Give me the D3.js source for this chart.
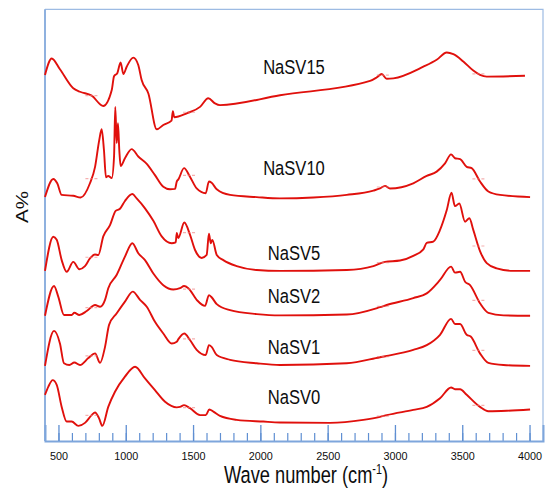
<!DOCTYPE html>
<html lang="en">
<head>
  <meta charset="utf-8">
  <title>FTIR NaSV</title>
  <script src="https://d3js.org/d3.v7.min.js"></script>
  <style>
    body { margin: 0; background: #fff; }
    text { font-family: "Liberation Sans", Arial, sans-serif; fill: #0d0d0d; }
  </style>
</head>
<body>
<div id="chart"></div>
<script>
"use strict";

// spectra: [wave number, A%]
const nasv15 = [[400,84.8],[450,88.6],[511,86.1],[610,81.7],[660,80.9],[747,80.0],[833,77.6],[896,81.3],[913,84.5],[937,85.2],[962,87.7],[982,85.0],[1007,86.7],[1056,88.8],[1093,87.1],[1118,83.6],[1168,80.5],[1230,72.2],[1279,73.2],[1340,74.2],[1350,76.4],[1360,75.0],[1453,75.9],[1552,77.4],[1613,79.4],[1663,78.2],[1700,77.8],[2146,80.1],[2815,83.4],[2864,84.2],[2902,85.0],[2939,83.9],[2988,84.0],[3211,86.7],[3310,88.3],[3385,90.0],[3434,89.6],[3508,87.9],[3582,85.8],[3632,84.8],[3682,84.4],[3966,84.6]];
const nasv10 = [[400,56.5],[462,60.7],[491,59.7],[524,57.0],[610,56.8],[665,56.4],[734,59.7],[772,63.5],[803,69.7],[821,72.2],[838,67.4],[853,61.1],[870,61.4],[896,60.9],[913,65.9],[922,77.4],[933,69.0],[942,73.6],[952,67.4],[962,63.7],[994,65.5],[1044,67.6],[1093,65.9],[1156,64.2],[1217,61.6],[1279,58.9],[1329,58.3],[1366,58.4],[1379,60.1],[1391,60.6],[1433,63.2],[1477,61.2],[1527,58.5],[1594,57.4],[1618,60.1],[1638,59.8],[1676,58.3],[1775,57.0],[1973,56.5],[2146,56.2],[2394,56.4],[2642,57.0],[2840,58.0],[2889,58.5],[2926,59.1],[2963,58.5],[3136,59.7],[3236,61.4],[3310,62.4],[3372,64.3],[3417,66.4],[3446,65.5],[3484,65.3],[3533,63.5],[3570,63.2],[3632,60.1],[3694,57.8],[3781,57.0],[4004,56.5]];
const nasv5 = [[400,39.4],[462,47.3],[487,46.6],[524,41.9],[561,39.2],[610,41.5],[655,39.8],[697,40.5],[734,42.3],[771,43.2],[796,43.1],[833,47.4],[883,50.0],[925,53.3],[957,53.8],[994,55.6],[1049,57.2],[1081,56.2],[1143,53.9],[1205,51.0],[1267,47.4],[1341,45.8],[1371,46.0],[1379,48.2],[1390,47.0],[1435,50.6],[1477,47.8],[1514,44.3],[1564,42.4],[1601,43.1],[1618,48.0],[1632,45.8],[1643,46.6],[1676,43.1],[1725,41.9],[1824,40.5],[1973,39.6],[2146,39.4],[2642,39.6],[2840,40.5],[2926,41.5],[3038,41.8],[3136,42.9],[3211,44.4],[3236,45.9],[3285,46.2],[3335,48.9],[3385,53.5],[3420,57.5],[3446,54.4],[3478,55.0],[3521,50.8],[3553,51.6],[3582,48.9],[3632,44.0],[3682,41.2],[3756,40.0],[3880,39.4],[4004,39.4]];
const nasv2 = [[400,29.0],[467,35.9],[499,33.4],[541,29.2],[598,29.2],[618,29.7],[655,29.2],[710,30.1],[772,31.5],[809,31.1],[846,32.7],[870,35.4],[933,38.5],[994,42.7],[1049,45.8],[1093,43.5],[1143,41.9],[1205,38.8],[1279,36.1],[1353,35.1],[1403,35.4],[1433,35.9],[1465,35.4],[1527,32.7],[1589,31.3],[1618,33.8],[1638,33.3],[1676,31.7],[1775,30.3],[1973,29.4],[2146,29.1],[2642,29.3],[2889,31.0],[2939,31.5],[3136,33.1],[3236,34.2],[3335,37.3],[3417,40.4],[3446,39.0],[3484,39.2],[3521,36.9],[3558,36.1],[3632,31.9],[3694,29.7],[3806,29.1],[4004,29.0]];
const nasv1 = [[400,17.4],[467,25.5],[511,22.6],[541,18.0],[581,17.6],[618,18.2],[660,17.6],[722,19.2],[772,20.3],[809,18.1],[846,21.8],[876,26.9],[933,29.6],[994,32.3],[1052,34.6],[1106,32.7],[1156,31.1],[1217,27.6],[1279,24.9],[1341,22.6],[1379,23.0],[1391,23.6],[1435,24.9],[1477,23.4],[1527,21.1],[1594,19.9],[1618,22.2],[1638,21.8],[1676,19.9],[1775,18.8],[1973,18.0],[2146,17.6],[2642,18.0],[2889,19.4],[2939,19.7],[3136,21.1],[3236,22.2],[3335,24.6],[3417,28.3],[3446,27.1],[3484,27.1],[3533,24.6],[3563,24.2],[3632,20.3],[3694,18.1],[3806,17.6],[4004,17.4]];
const nasv0 = [[400,10.7],[425,12.6],[457,14.1],[487,13.0],[524,7.9],[561,4.5],[598,4.5],[648,3.5],[697,4.2],[747,6.0],[772,6.6],[801,5.3],[826,3.5],[870,7.9],[920,11.4],[994,14.9],[1069,17.2],[1143,14.5],[1217,11.8],[1292,9.1],[1379,7.8],[1403,7.9],[1433,8.3],[1477,7.6],[1552,6.0],[1594,6.0],[1621,7.3],[1651,6.8],[1700,5.8],[1824,4.9],[2022,4.5],[2146,4.3],[2518,4.2],[2765,4.9],[2889,5.6],[2939,6.0],[3136,7.2],[3236,7.9],[3335,9.9],[3417,12.4],[3446,12.0],[3484,12.0],[3533,10.7],[3632,7.9],[3694,6.9],[3831,7.0],[4004,7.3]];

const seriesNames = ["NaSV15", "NaSV10", "NaSV5", "NaSV2", "NaSV1", "NaSV0"];
const seriesData = [nasv15, nasv10, nasv5, nasv2, nasv1, nasv0];
// where each name sits: [wave number, A%]
const labelAt = [[2250, 85.0], [2250, 61.6], [2250, 41.9], [2250, 31.9], [2250, 20.2], [2250, 8.6]];
const markWaves = [745, 1470, 2910, 3620];
const majorTicks = [500, 1000, 1500, 2000, 2500, 3000, 3500, 4000];
const minorTicks = d3.range(500, 4001, 100);

const W = 545, H = 489;
const svg = d3.select("#chart").append("svg").attr("width", W).attr("height", H);

const x = d3.scaleLinear().domain([400, 4100]).range([45, 543]);
const y = d3.scaleLinear().domain([0, 100]).range([441, 9.3]);

// frame
svg.append("path")
  .attr("d", `M${x(400)},${y(100)}H${x(4100)}V${y(0)}`)
  .attr("fill", "none").attr("stroke", "#9dbbe3").attr("stroke-width", 1.2);
svg.append("line")
  .attr("x1", x(400)).attr("x2", x(400)).attr("y1", y(100)).attr("y2", y(0))
  .attr("stroke", "#8fb1df").attr("stroke-width", 2);

// ticks (pointing up)
svg.append("g").attr("transform", `translate(0,${y(0)})`)
  .call(d3.axisBottom(x).tickValues(minorTicks).tickSize(-8).tickFormat(""))
  .call(g => g.select(".domain").remove())
  .call(g => g.selectAll("line").attr("stroke", "#5f8fd2").attr("stroke-width", 1.2));

const major = svg.append("g").attr("transform", `translate(0,${y(0)})`)
  .call(d3.axisBottom(x).tickValues(majorTicks).tickSize(-16).tickPadding(11).tickFormat(d3.format("d")));
major.select(".domain").attr("stroke", "#7ea6dc").attr("stroke-width", 2);
major.selectAll("line").attr("stroke", "#5f8fd2").attr("stroke-width", 1.3);
major.selectAll("text")
  .attr("font-size", 10.8).attr("fill", "#0d0d0d")
  .attr("font-family", "'Liberation Sans', Arial, sans-serif");

// spectra
const line = d3.line().x(d => x(d[0])).y(d => y(d[1])).curve(d3.curveMonotoneX);
svg.append("g").selectAll("path")
  .data(seriesData)
  .join("path")
  .attr("d", line)
  .attr("fill", "none")
  .attr("stroke", "#e0100c")
  .attr("stroke-width", 1.9)
  .attr("stroke-linejoin", "round");

// faint dash markers on the curves
const bis = d3.bisector(d => d[0]).left;
function valueAt(s, w) {
  const i = Math.max(1, Math.min(s.length - 1, bis(s, w)));
  const a = s[i - 1], b = s[i];
  return a[1] + (b[1] - a[1]) * (w - a[0]) / (b[0] - a[0]);
}
const marks = [];
seriesData.forEach(s => markWaves.forEach(w => marks.push([w, valueAt(s, w)])));
svg.append("g").selectAll("line")
  .data(marks)
  .join("line")
  .attr("x1", d => x(d[0]) - 6).attr("x2", d => x(d[0]) + 6)
  .attr("y1", d => y(d[1])).attr("y2", d => y(d[1]))
  .attr("stroke", "#ef7b7b").attr("stroke-opacity", 0.6)
  .attr("stroke-width", 1.2).attr("stroke-dasharray", "3,1.5");

// series names
svg.append("g").selectAll("text")
  .data(seriesNames)
  .join("text")
  .attr("transform", (d, i) => `translate(${x(labelAt[i][0])},${y(labelAt[i][1])}) scale(0.85,1)`)
  .attr("text-anchor", "middle")
  .attr("font-size", 19.5)
  .text(d => d);

// axis titles
const title = svg.append("text")
  .attr("transform", `translate(306,482.7) scale(0.77,1)`)
  .attr("text-anchor", "middle")
  .attr("font-size", 23.7);
title.append("tspan").text("Wave number (cm");
title.append("tspan").attr("dy", -9).attr("font-size", 14).text("-1");
title.append("tspan").attr("dy", 9).text(")");

svg.append("text")
  .attr("transform", "translate(27.5,207) rotate(-90) scale(1.25,1)")
  .attr("text-anchor", "middle")
  .attr("font-size", 16.5)
  .text("A%");
</script>
</body>
</html>
